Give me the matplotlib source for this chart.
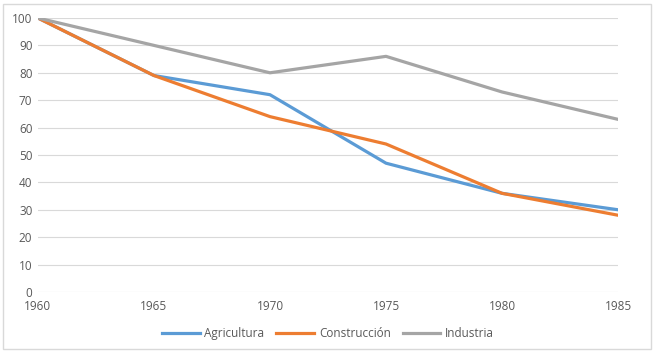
import matplotlib
matplotlib.use('Agg')
import matplotlib.pyplot as plt
from matplotlib.patches import Rectangle

years = [1960, 1965, 1970, 1975, 1980, 1985]
agricultura = [100, 79, 72, 47, 36, 30]
construccion = [100, 79, 64, 54, 36, 28]
industria = [100, 90, 80, 86, 73, 63]

plt.rcParams['font.family'] = ['Open Sans', 'DejaVu Sans']
txt = '#595959'

fig = plt.figure(figsize=(6.54, 3.53), dpi=100)
fig.patches.append(Rectangle((0.005, 0.012), 0.99, 0.978, transform=fig.transFigure,
                             fill=False, edgecolor='#d9d9d9', lw=1))
ax = fig.add_axes([0.058, 0.173, 0.887, 0.776])

ax.plot(years, agricultura, color='#5B9BD5', lw=2.3, label='Agricultura', solid_joinstyle='round')
ax.plot(years, construccion, color='#ED7D31', lw=2.3, label='Construcción', solid_joinstyle='round')
ax.plot(years, industria, color='#A5A5A5', lw=2.3, label='Industria', solid_joinstyle='round')

ax.set_xlim(1960, 1985)
ax.set_ylim(0, 100)
ax.set_yticks(range(0, 101, 10))
ax.set_xticks(years)
ax.grid(axis='y', color='#d9d9d9', lw=0.8)
ax.set_axisbelow(True)
for s in ax.spines.values():
    s.set_visible(False)
ax.tick_params(length=0, labelsize=8.5, colors=txt, pad=4)
ax.tick_params(axis='x', pad=6)

leg = ax.legend(loc='upper center', bbox_to_anchor=(0.5, -0.09), ncol=3, frameon=False,
                fontsize=8.5, handlelength=3.2, columnspacing=1.0, handletextpad=0.4)
for t in leg.get_texts():
    t.set_color(txt)

fig.savefig('out.png', dpi=100)
